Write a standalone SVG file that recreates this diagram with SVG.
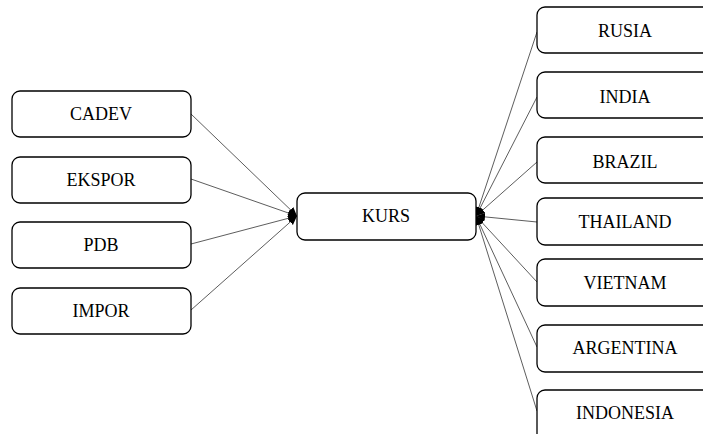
<svg xmlns="http://www.w3.org/2000/svg" width="703" height="434" viewBox="0 0 703 434">
<style>
.box{fill:#fff;stroke:#000;stroke-width:1.3}
.lbl{font-family:"Liberation Serif","Times New Roman",serif;font-size:18px;fill:#000;text-anchor:middle;dominant-baseline:central}
.con{stroke:#333;stroke-width:0.8;fill:none}
</style>
<defs>
<marker id="ah" markerUnits="userSpaceOnUse" markerWidth="12" markerHeight="12" refX="9" refY="6" orient="auto">
<path d="M0,2 L9,6 L0,10 Z" fill="#000"/>
</marker>
</defs>
<rect width="703" height="434" fill="#fff"/>
<g id="connectors">
<line class="con" x1="191" y1="114" x2="297" y2="216" marker-end="url(#ah)"/>
<line class="con" x1="191" y1="179" x2="297" y2="216" marker-end="url(#ah)"/>
<line class="con" x1="191" y1="244" x2="297" y2="216" marker-end="url(#ah)"/>
<line class="con" x1="191" y1="310" x2="297" y2="216" marker-end="url(#ah)"/>
<line class="con" x1="537" y1="32" x2="476" y2="216" marker-end="url(#ah)"/>
<line class="con" x1="537" y1="97" x2="476" y2="216" marker-end="url(#ah)"/>
<line class="con" x1="537" y1="162" x2="476" y2="216" marker-end="url(#ah)"/>
<line class="con" x1="537" y1="222" x2="476" y2="216" marker-end="url(#ah)"/>
<line class="con" x1="537" y1="282" x2="476" y2="216" marker-end="url(#ah)"/>
<line class="con" x1="537" y1="347" x2="476" y2="216" marker-end="url(#ah)"/>
<line class="con" x1="537" y1="411" x2="476" y2="216" marker-end="url(#ah)"/>
</g>
<g id="cadev"><rect class="box" x="12" y="91" width="179" height="46" rx="8"/><text class="lbl" x="101" y="114">CADEV</text></g>
<g id="ekspor"><rect class="box" x="12" y="157" width="179" height="46" rx="8"/><text class="lbl" x="101" y="180">EKSPOR</text></g>
<g id="pdb"><rect class="box" x="12" y="222" width="179" height="46" rx="8"/><text class="lbl" x="101" y="245">PDB</text></g>
<g id="impor"><rect class="box" x="12" y="288" width="179" height="46" rx="8"/><text class="lbl" x="101" y="311">IMPOR</text></g>
<g id="kurs"><rect class="box" x="297" y="193" width="179" height="47" rx="8"/><text class="lbl" x="386" y="216">KURS</text></g>
<g id="rusia"><rect class="box" x="537" y="7" width="180" height="46" rx="8"/><text class="lbl" x="625" y="31">RUSIA</text></g>
<g id="india"><rect class="box" x="537" y="72" width="180" height="46" rx="8"/><text class="lbl" x="625" y="97">INDIA</text></g>
<g id="brazil"><rect class="box" x="537" y="137" width="180" height="46" rx="8"/><text class="lbl" x="625" y="162">BRAZIL</text></g>
<g id="thailand"><rect class="box" x="537" y="198" width="180" height="47" rx="8"/><text class="lbl" x="625" y="222">THAILAND</text></g>
<g id="vietnam"><rect class="box" x="537" y="259" width="180" height="47" rx="8"/><text class="lbl" x="625" y="283">VIETNAM</text></g>
<g id="argentina"><rect class="box" x="537" y="325" width="180" height="47" rx="8"/><text class="lbl" x="625" y="348">ARGENTINA</text></g>
<g id="indonesia"><rect class="box" x="537" y="390" width="180" height="60" rx="8"/><text class="lbl" x="625" y="413">INDONESIA</text></g>
</svg>
